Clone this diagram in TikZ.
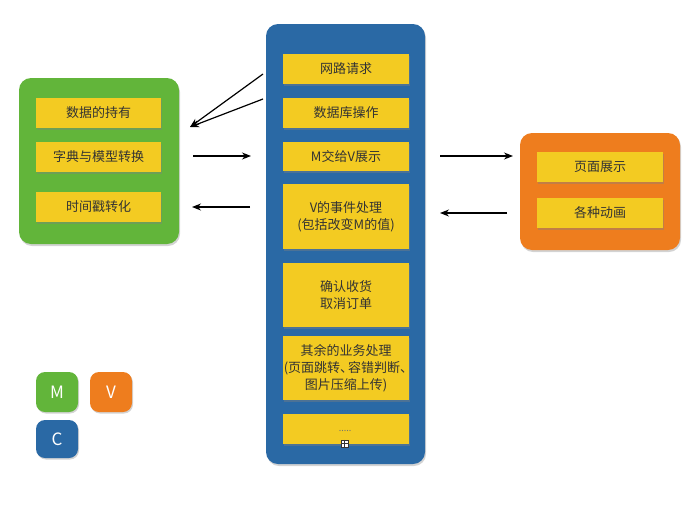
\documentclass[tikz,border=0pt]{standalone}
\usepackage{fontspec}
\setmainfont{Noto Sans CJK SC}
\usetikzlibrary{arrows.meta,shadows}
\definecolor{mgreen}{HTML}{62B53A}
\definecolor{vorange}{HTML}{EE7D1E}
\definecolor{cblue}{HTML}{2A69A5}
\definecolor{cyel}{HTML}{F3CB22}
\definecolor{txt}{HTML}{333333}
\newcommand{\dun}{、\kern-5pt}
\begin{document}
\begin{tikzpicture}[x=1pt,y=-1pt,
  panel/.style={rounded corners=12pt, drop shadow={shadow xshift=1pt,shadow yshift=-2pt,opacity=0.35}},
  item/.style={fill=cyel, text=txt, font=\fontsize{13}{17}\selectfont, align=center, inner sep=0pt,
     drop shadow={shadow xshift=1pt,shadow yshift=-1.5pt,opacity=0.4}},
  tag/.style={rounded corners=9pt, text=white, font=\fontsize{17}{20}\selectfont, inner sep=0pt,
     drop shadow={shadow xshift=1pt,shadow yshift=-1.5pt,opacity=0.35}},
  arr/.style={-{Stealth[length=9pt,width=7pt]}, line width=1.2pt}]
\useasboundingbox (0,0) rectangle (700,522);
% panels
\path[panel, fill=mgreen] (19,78) rectangle (179,244);
\node[inner sep=0pt] (Mpanel) at (99,161) {};
\path[panel, fill=cblue] (266,24) rectangle (425,464);
\node[inner sep=0pt] (Cpanel) at (345,244) {};
\path[panel, fill=vorange] (520,133) rectangle (680,250);
\node[inner sep=0pt] (Vpanel) at (600,191) {};
% model items
\node[item, minimum width=125pt, minimum height=30pt] (m1) at (98.5,113) {数据的持有};
\node[item, minimum width=125pt, minimum height=30pt] (m2) at (98.5,157) {字典与模型转换};
\node[item, minimum width=125pt, minimum height=30pt] (m3) at (98.5,207) {时间戳转化};
% controller items
\node[item, minimum width=126pt, minimum height=30pt] (c1) at (346,69) {网路请求};
\node[item, minimum width=126pt, minimum height=30pt] (c2) at (346,113) {数据库操作};
\node[item, minimum width=126pt, minimum height=29pt] (c3) at (346,156.5) {M交给V展示};
\node[item, minimum width=126pt, minimum height=65pt] (c4) at (346,216.5) {V的事件处理\\(包括改变M的值)};
\node[item, minimum width=126pt, minimum height=64pt] (c5) at (346,295) {确认收货\\取消订单};
\node[item, text width=126pt, minimum height=64pt] (c6) at (346,368) {其余的业务处理\\(页面跳转\dun 容错判断\dun\\图片压缩上传)};
\node[item, minimum width=126pt, minimum height=30pt] (c7) at (346,429) {};
\node[font=\fontsize{9}{9}\selectfont, text=txt!70, inner sep=0pt] (dots) at (345,431) {.....};
\node[draw=txt, fill=white, line width=0.5pt, minimum size=7pt, inner sep=0pt] (plus) at (344.5,443.5) {};
\draw[txt, line width=0.7pt] (plus.north) -- (plus.south) (plus.west) -- (plus.east);
% view items
\node[item, minimum width=126pt, minimum height=30pt] (v1) at (600,167) {页面展示};
\node[item, minimum width=126pt, minimum height=30pt] (v2) at (600,213) {各种动画};
% arrows
\coordinate (a1s) at (263,74);
\coordinate (a2s) at (263,99);
\coordinate (aMe) at (190,127);
\draw[arr] (a2s) -- (aMe);
\draw[arr] (a1s) -- (aMe);
\coordinate (b1s) at (193,156);
\coordinate (b1e) at (251,156);
\draw[arr] (b1s) -- (b1e);
\coordinate (b2s) at (250,207);
\coordinate (b2e) at (192,207);
\draw[arr] (b2s) -- (b2e);
\coordinate (b3s) at (440,156);
\coordinate (b3e) at (513,156);
\draw[arr] (b3s) -- (b3e);
\coordinate (b4s) at (507,213);
\coordinate (b4e) at (440,213);
\draw[arr] (b4s) -- (b4e);
% legend
\node[tag, fill=mgreen, minimum width=42pt, minimum height=40pt] (M) at (57,392) {M};
\node[tag, fill=vorange, minimum width=42pt, minimum height=40pt] (V) at (111,392) {V};
\node[tag, fill=cblue, minimum width=42pt, minimum height=38pt] (C) at (57,439) {C};
\end{tikzpicture}
\end{document}
